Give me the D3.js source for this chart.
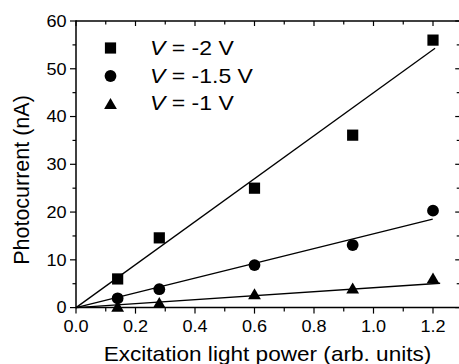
<!DOCTYPE html>
<html>
<head>
<meta charset="utf-8">
<script src="https://cdn.jsdelivr.net/npm/d3@7"></script>
<style>
  html, body { margin: 0; padding: 0; background: #fff; }
  svg { display: block; }
  text { font-family: "Liberation Sans", Arial, sans-serif; fill: #000; }
</style>
</head>
<body>
<svg id="chart" width="459" height="364"></svg>
<script>
// Excitation power (arb. units) of each measurement
const power = [0.14, 0.28, 0.60, 0.93, 1.20];
// Photocurrent (nA) at each bias
const currentV2 = [6.0, 14.6, 25.0, 36.1, 56.0];
const currentV15 = [1.95, 3.85, 8.9, 13.1, 20.3];
const currentV1 = [0.3, 1.05, 2.9, 4.1, 6.2];
// Linear fits through the origin: [power, current] end points
const fitV2 = [[0, 0], [1.207, 54.3]];
const fitV15 = [[0, 0], [1.199, 18.5]];
const fitV1 = [[0, 0], [1.224, 5.1]];
// Axis ticks
const xTicks = [0, 0.2, 0.4, 0.6, 0.8, 1.0, 1.2];
const xTickLabels = ["0.0", "0.2", "0.4", "0.6", "0.8", "1.0", "1.2"];
const xMinorTicks = [0.1, 0.3, 0.5, 0.7, 0.9, 1.1];
const yTicks = [0, 10, 20, 30, 40, 50, 60];
const yTickLabels = ["0", "10", "20", "30", "40", "50", "60"];
const yMinorTicks = [5, 15, 25, 35, 45, 55];
const legendLabels = ["= -2 V", "= -1.5 V", "= -1 V"];

const svg = d3.select("#chart");

const x = d3.scaleLinear().domain([0, 1.2]).range([76, 433]);
const y = d3.scaleLinear().domain([0, 60]).range([307.6, 21]);
const xMax = 1.2915;

const plotLeft = x(0), plotRight = x(xMax), plotTop = y(60), plotBottom = y(0);

// Text helper: glyphs are a little wider than the plain face
function label(g, str, tx, ty, size, anchor, sx) {
  return g.append("text")
    .attr("transform", `translate(${tx},${ty}) scale(${sx},1)`)
    .attr("font-size", size)
    .attr("text-anchor", anchor)
    .text(str);
}

// Fit lines
const line = d3.line().x(d => x(d[0])).y(d => y(d[1]));
[fitV2, fitV15, fitV1].forEach(f => {
  svg.append("path").attr("d", line(f))
    .attr("fill", "none").attr("stroke", "#000").attr("stroke-width", 1.3);
});

// Marker shapes
function squarePath(cx, cy) {
  const h = 5.6;
  return `M${cx - h},${cy - h}H${cx + h}V${cy + h}H${cx - h}Z`;
}
function circlePath(cx, cy) {
  const r = 5.9;
  return `M${cx - r},${cy}A${r},${r} 0 1,0 ${cx + r},${cy}A${r},${r} 0 1,0 ${cx - r},${cy}Z`;
}
function trianglePath(cx, cy) {
  const w = 6.4, h = 5.5;
  return `M${cx},${cy - h}L${cx + w},${cy + h}L${cx - w},${cy + h}Z`;
}

const series = [
  { values: currentV2, shape: squarePath },
  { values: currentV15, shape: circlePath },
  { values: currentV1, shape: trianglePath }
];
series.forEach(s => {
  svg.append("g").selectAll("path")
    .data(s.values.map((v, i) => [power[i], v]))
    .join("path")
    .attr("d", d => s.shape(x(d[0]), y(d[1])))
    .attr("fill", "#000");
});

// Frame
const axisG = svg.append("g").attr("stroke", "#000").attr("fill", "none");
axisG.append("line").attr("x1", plotLeft).attr("x2", plotLeft).attr("y1", plotTop - 0.75).attr("y2", plotBottom + 0.75).attr("stroke-width", 1.5);
axisG.append("line").attr("x1", plotLeft).attr("x2", plotRight + 1).attr("y1", plotBottom).attr("y2", plotBottom).attr("stroke-width", 1.5);
axisG.append("line").attr("x1", plotLeft).attr("x2", plotRight + 1).attr("y1", plotTop).attr("y2", plotTop).attr("stroke-width", 1.5);
axisG.append("line").attr("x1", plotRight).attr("x2", plotRight).attr("y1", plotTop).attr("y2", plotBottom).attr("stroke-width", 1.5);

// Ticks: outward on bottom/left, inward on top/right
function tick(x1, y1, x2, y2) {
  axisG.append("line").attr("x1", x1).attr("y1", y1).attr("x2", x2).attr("y2", y2).attr("stroke-width", 1.2);
}
xTicks.forEach(v => { tick(x(v), plotBottom, x(v), plotBottom + 6); tick(x(v), plotTop, x(v), plotTop + 5); });
xMinorTicks.forEach(v => { tick(x(v), plotBottom, x(v), plotBottom + 4); tick(x(v), plotTop, x(v), plotTop + 3.5); });
yTicks.forEach(v => { tick(plotLeft, y(v), plotLeft - 6, y(v)); tick(plotRight, y(v), plotRight - 5, y(v)); });
yMinorTicks.forEach(v => { tick(plotLeft, y(v), plotLeft - 3.5, y(v)); tick(plotRight, y(v), plotRight - 3.5, y(v)); });

// Tick labels
const labelsG = svg.append("g");
xTicks.forEach((v, i) => label(labelsG, xTickLabels[i], x(v), 332, 16, "middle", 1.13));
yTicks.forEach((v, i) => label(labelsG, yTickLabels[i], 66.5, y(v) + 5.8, 16, "end", 1.13));

// Axis titles
label(svg, "Excitation light power (arb. units)", 267.5, 360.5, 20, "middle", 1.13);
svg.append("text")
  .attr("transform", "translate(29,180) rotate(-90) scale(1,1.05)")
  .attr("font-size", 21.5)
  .attr("text-anchor", "middle")
  .text("Photocurrent (nA)");

// Legend
const legendShapes = [squarePath, circlePath, trianglePath];
const legendRowY = [48, 76, 103.5];
legendLabels.forEach((txt, i) => {
  svg.append("path").attr("d", legendShapes[i](110.5, legendRowY[i])).attr("fill", "#000");
  const t = svg.append("text")
    .attr("transform", `translate(150,${legendRowY[i] + 6.8}) scale(1.15,1)`)
    .attr("font-size", 20);
  t.append("tspan").attr("font-style", "italic").text("V");
  t.append("tspan").text(" " + txt);
});
</script>
</body>
</html>
